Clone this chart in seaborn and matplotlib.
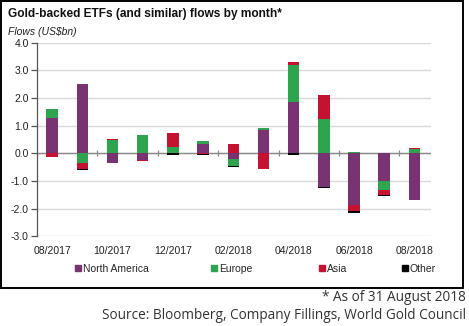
import numpy as np
import pandas as pd
import matplotlib
matplotlib.use("Agg")
import matplotlib.pyplot as plt
from matplotlib.lines import Line2D
from matplotlib.patches import Rectangle
import seaborn as sns

# Monthly flows into gold-backed ETFs, US$bn, by region
months = ["08/2017", "09/2017", "10/2017", "11/2017", "12/2017", "01/2018",
          "02/2018", "03/2018", "04/2018", "05/2018", "06/2018", "07/2018",
          "08/2018"]
north_america = [1.27, 2.49, -0.34, -0.24, 0.00, 0.35, -0.20, 0.84, 1.86, -1.20, -1.87, -0.99, -1.67]
europe = [0.32, -0.34, 0.48, 0.65, 0.24, 0.10, -0.27, 0.06, 1.33, 1.25, 0.05, -0.32, 0.14]
asia = [-0.12, -0.23, 0.02, -0.03, 0.48, -0.04, 0.33, -0.55, 0.10, 0.85, -0.20, -0.21, 0.04]
other = [-0.01, -0.02, -0.02, -0.01, -0.06, -0.01, -0.03, -0.03, -0.05, -0.07, -0.09, -0.02, -0.03]
tick_labels = months[::2]

series_names = ["North America", "Europe", "Asia", "Other"]
series_values = [north_america, europe, asia, other]
colors = ["#7a3372", "#2ea44f", "#c41230", "#000000"]

sns.set_theme(style="white")
plt.rcParams["font.family"] = ["Liberation Sans", "DejaVu Sans"]

W, H = 469, 326
fig = plt.figure(figsize=(W / 100, H / 100), dpi=100)
ax = fig.add_axes([0.0789, 0.2748, 0.919 - 0.0789, 0.5948])

# diverging stack: positive parts pile upward, negative parts downward
pos_base = np.zeros(len(months))
neg_base = np.zeros(len(months))
for name, vals, col in zip(series_names, series_values, colors):
    vals = np.asarray(vals, dtype=float)
    bottoms = np.where(vals >= 0, pos_base, neg_base)
    df = pd.DataFrame({"month": months, "flow": vals})
    sns.barplot(data=df, x="month", y="flow", order=months, color=col,
                saturation=1, width=0.38, bottom=bottoms, ax=ax,
                errorbar=None, linewidth=0, zorder=3)
    pos_base = pos_base + np.clip(vals, 0, None)
    neg_base = neg_base + np.clip(vals, None, 0)

ax.set_ylim(-3, 4)
ax.set_xlim(-0.5, 12.55)
ax.set_yticks(np.arange(-3, 5, 1))
ax.set_yticklabels([f"{v:.1f}" for v in np.arange(-3, 5, 1)])
ax.set_xticks(range(0, len(months), 2))
ax.set_xticklabels(tick_labels)
ax.set_xlabel("")
ax.set_ylabel("")

ax.grid(axis="y", color="#d9d9d9", linewidth=1.0, zorder=0)
ax.grid(axis="x", visible=False)
ax.axhline(0, color="#8a8a8a", linewidth=1.0, zorder=2)
# small separators on the zero line between every pair of months
ax.vlines(np.arange(1.5, len(months) - 1, 2), -0.11, 0.11,
          color="#8a8a8a", linewidth=0.9, zorder=2)

for side in ["top", "right", "bottom"]:
    ax.spines[side].set_visible(False)
ax.spines["left"].set_color("#555555")
ax.spines["left"].set_linewidth(0.9)

ax.tick_params(axis="y", which="major", length=4, width=0.9, color="#555555",
               pad=2, labelsize=7.5, labelcolor="#222222", left=True)
ax.tick_params(axis="x", length=0, pad=7, labelsize=7.5, labelcolor="#222222")

fig.text(0.017, 0.958, "Gold-backed ETFs (and similar) flows by month*",
         fontsize=8.6, fontweight="bold", color="#111111", va="center")
fig.text(0.017, 0.902, "Flows (US$bn)", fontsize=7.5, style="italic",
         color="#222222", va="center")

# legend entries, one per region, spread along the bottom of the frame
legend_x = [75, 211, 319, 402]
for name, col, lx in zip(series_names, colors, legend_x):
    h = Line2D([0], [0], marker="s", linestyle="none", markersize=4.5,
               markerfacecolor=col, markeredgecolor=col)
    leg = fig.legend([h], [name], loc="center left",
                     bbox_to_anchor=(lx / W, 1 - 269 / H), frameon=False,
                     fontsize=7.5, handlelength=0.6, handletextpad=0.15,
                     borderpad=0, borderaxespad=0)

# outer frame around the chart area
fig.patches.append(Rectangle((0.002, 0.1166), 0.985, 0.881,
                             transform=fig.transFigure, fill=False,
                             edgecolor="black", linewidth=1.4))

fig.text(0.994, 0.086, "* As of 31 August 2018", ha="right", va="center",
         fontsize=9.8, family=["Open Sans", "DejaVu Sans"], color="#333333")
fig.text(0.994, 0.031, "Source: Bloomberg, Company Fillings, World Gold Council",
         ha="right", va="center", fontsize=9.8,
         family=["Open Sans", "DejaVu Sans"], color="#333333")

fig.savefig("out.png", dpi=100)
